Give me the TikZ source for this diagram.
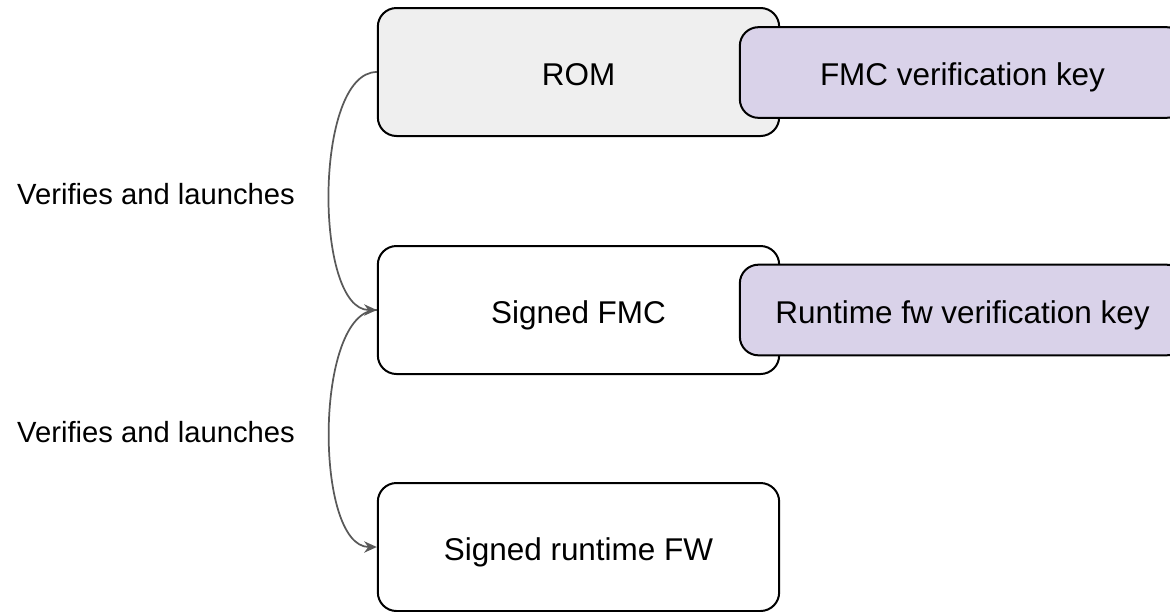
\documentclass[tikz,border=0pt]{standalone}
\usepackage{fontspec}
\setmainfont{Liberation Sans}
\usetikzlibrary{arrows.meta}
\definecolor{romgray}{HTML}{EFEFEF}
\definecolor{keypurple}{HTML}{D9D2E9}
\definecolor{linkgray}{HTML}{595959}
\tikzset{
  stage/.style={draw, line width=1.5pt, rounded corners=14pt,
    minimum width=301pt, minimum height=96pt,
    text height=19.9pt, text depth=0pt,
    font=\fontsize{23.6}{28}\selectfont},
  keybox/.style={stage, fill=keypurple, minimum width=334pt, minimum height=68pt},
  launch/.style={draw=linkgray, line width=1.3pt,
    -{Stealth[length=9.5pt,width=8.5pt]}, out=180, in=180, looseness=0.68},
  note/.style={font=\fontsize{21.9}{26}\selectfont, anchor=west}
}
\begin{document}
\begin{tikzpicture}[x=0.75pt, y=-0.75pt]
  \useasboundingbox (0,0) rectangle (1170,611);
  \clip (0,0) rectangle (1170,611);
  \draw
    (578.5,72) node[stage, fill=romgray] (rom){ROM}
    (578.5,310) node[stage] (fmc){Signed FMC}
    (578.5,547) node[stage] (fw){Signed runtime FW};
  \draw
    (962.5,72.5) node[keybox] (fmckey){FMC verification key}
    (962.5,310) node[keybox] (fwkey){Runtime fw verification key};
  \node[note] (v1) at (12.5,194) {Verifies and launches};
  \node[note] (v2) at (12.5,432) {Verifies and launches};
  \begin{scope}[launch]
    \draw (rom.west) to (fmc.west);
    \draw (fmc.west) to (fw.west);
  \end{scope}
\end{tikzpicture}
\end{document}
